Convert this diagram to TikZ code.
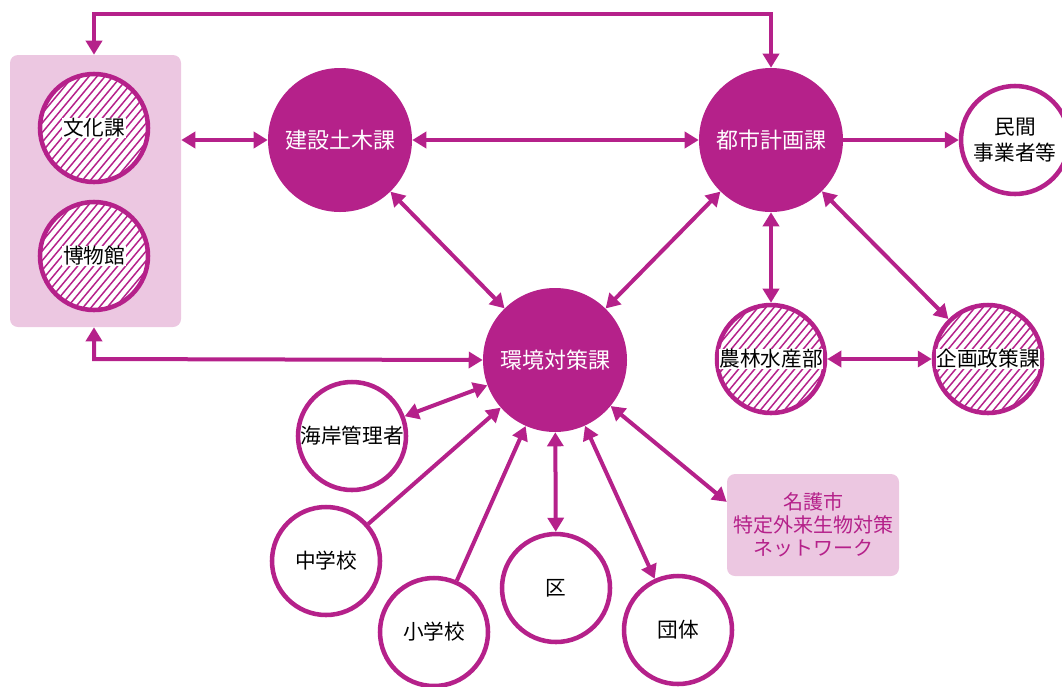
\documentclass[tikz,border=0pt]{standalone}
\usepackage{fontspec}
\setmainfont{Noto Sans CJK JP}
\usetikzlibrary{arrows.meta}
\definecolor{pur}{RGB}{181,33,138}
\definecolor{lpink}{RGB}{236,199,225}
\begin{document}
\begin{tikzpicture}[x=0.75pt,y=-0.75pt,
  tipa/.tip={Triangle[length=10.5pt,width=12pt]},
  dbl/.style={draw=pur, line width=3pt, tipa-tipa},
  sgl/.style={draw=pur, line width=3pt, -tipa},
  filledc/.style={circle, fill=pur, minimum size=108pt, inner sep=0pt, text=white,
    font=\fontsize{16.5}{20}\selectfont},
  whitec/.style={circle, draw=pur, line width=3.4pt, fill=white, minimum size=81pt,
    inner sep=0pt, align=center, font=\fontsize{15.5}{19.5}\selectfont},
  hatchc/.style={whitec, path picture={
    \foreach \i in {-144,-136,...,144}
      \draw[pur, line width=1.1pt] (path picture bounding box.center) ++(\i-50,60) -- ++(100,-120);}},
  hlabel/.style={fill=white, inner sep=0.6pt, font=\fontsize{15.5}{19.5}\selectfont},
  pinkbox/.style={fill=lpink, rounded corners=6pt, inner sep=0pt}
]
\useasboundingbox (0,0) rectangle (1062,686);
\clip (0,0) rectangle (1062,686);

% left group box
\node[pinkbox, minimum width=128.25pt, minimum height=204pt] (leftbox) at (95.5,191) {};
\node[hatchc, label={[hlabel]center:文化課}] (bunka) at (94,128) {};
\node[hatchc, label={[hlabel]center:博物館}] (haku) at (94,256) {};

% main filled circles
\node[filledc] (kensetsu) at (340,140) {建設土木課};
\node[filledc] (toshi) at (771,140) {都市計画課};
\node[filledc] (kankyo) at (555,360) {環境対策課};

% right side
\node[whitec] (minkan) at (1015,140) {民間\\事業者等};
\node[hatchc, label={[hlabel]center:農林水産部}] (nourin) at (771,359) {};
\node[hatchc, label={[hlabel]center:企画政策課}] (kikaku) at (988,359) {};

% bottom circles
\node[whitec] (kaigan) at (352,436) {海岸管理者};
\node[whitec] (chuu) at (326,561) {中学校};
\node[whitec] (shou) at (434,632) {小学校};
\node[whitec] (ku) at (556,588) {区};
\node[whitec] (dantai) at (678,630) {団体};

% network box
\node[pinkbox, minimum width=129pt, minimum height=76.5pt, text=pur, align=center,
  font=\fontsize{15}{17.3}\selectfont] (nago) at (813,525) {名護市\\特定外来生物対策\\ネットワーク};

% connectors
\coordinate (topL) at (94,14);
\coordinate (topR) at (771,14);
\coordinate (botL) at (94,359);
\draw[dbl, line join=miter] (leftbox.north -| bunka) -- (topL) -- (topR) -- (toshi.north);
\draw[dbl, line join=miter] (leftbox.south -| haku) -- (botL) -- (kankyo.west);
\draw[dbl] (kensetsu.west -| leftbox.east) -- (kensetsu.west);
\draw[dbl] (kensetsu) -- (toshi);
\draw[sgl] (toshi) -- (minkan);
\draw[dbl] (kensetsu) -- (kankyo);
\draw[dbl] (toshi) -- (kankyo);
\draw[dbl] (toshi) -- (nourin);
\draw[dbl] (toshi) -- (kikaku);
\draw[dbl] (nourin) -- (kikaku);
\draw[dbl] (kaigan) -- (kankyo);
\draw[sgl] (chuu) -- (kankyo);
\draw[sgl] (shou) -- (kankyo);
\draw[dbl] (ku) -- (kankyo);
\draw[dbl] (dantai) -- (kankyo);
\draw[dbl] (kankyo) -- (nago.165);
\end{tikzpicture}
\end{document}
